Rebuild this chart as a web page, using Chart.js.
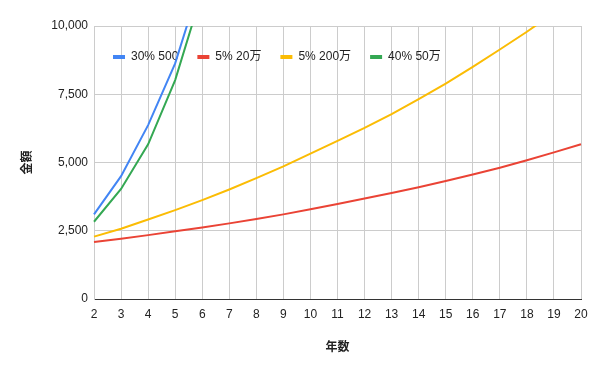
<!DOCTYPE html>
<html>
<head>
<meta charset="utf-8">
<script src="https://cdn.jsdelivr.net/npm/chart.js@4.4.1/dist/chart.umd.min.js"></script>
<style>
  html, body { margin: 0; padding: 0; background: #fff; }
  #wrap { width: 600px; height: 371px; }
</style>
</head>
<body>
<div id="wrap"><canvas id="chart" width="600" height="371"></canvas></div>
<script>
// Chart data
const years = [2, 3, 4, 5, 6, 7, 8, 9, 10, 11, 12, 13, 14, 15, 16, 17, 18, 19, 20];

const rate30_500 = [3100, 4500, 6370, 8630, 11800, 15500, 20300, 26600, 34800, 45400, 59200, 77100, 100400, 130700, 170100, 221300, 287900, 374400, 486900];
const rate5_20 = [2090, 2210, 2340, 2480, 2620, 2770, 2930, 3100, 3290, 3480, 3680, 3880, 4095, 4320, 4560, 4810, 5080, 5370, 5670];
const rate5_200 = [2285, 2575, 2910, 3255, 3620, 4010, 4425, 4860, 5325, 5790, 6265, 6770, 7320, 7890, 8500, 9140, 9790, 10480, 11200];
const rate40_50 = [2830, 4030, 5665, 8020, 11250, 15750, 22050, 30870, 43220, 60500, 84700, 118600, 166000, 232500, 325500, 455700, 638000, 893200, 1250500];

const seriesNames = ['30% 500', '5% 20万', '5% 200万', '40% 50万'];
const seriesColors = ['#4285F4', '#EA4335', '#FBBC04', '#34A853'];

const xTitle = '年数';
const yTitle = '金額';

const FONT = "Arial, 'Liberation Sans', 'Noto Sans CJK JP', sans-serif";

function makeDataset(i, values) {
    return {
        label: seriesNames[i],
        data: values,
        borderColor: seriesColors[i],
        backgroundColor: seriesColors[i],
        borderWidth: 2,
        pointRadius: 0,
        tension: 0
    };
}

// Move the legend down so it sits inside the plot, like the original
const legendInside = {
    id: 'legendInside',
    afterLayout: function(chart) {
        const lg = chart.legend;
        if (!lg) return;
        lg.top += 32;
        lg.height = 44;
        lg.bottom = lg.top + lg.height;
    }
};

const ctx = document.getElementById('chart').getContext('2d');
new Chart(ctx, {
    type: 'line',
    data: {
        labels: years,
        datasets: [
            makeDataset(0, rate30_500),
            makeDataset(1, rate5_20),
            makeDataset(2, rate5_200),
            makeDataset(3, rate40_50)
        ]
    },
    plugins: [legendInside],
    options: {
        responsive: false,
        animation: false,
        layout: {
            padding: { top: 0, right: 19, bottom: 12, left: 12 }
        },
        plugins: {
            tooltip: { enabled: false },
            legend: {
                position: 'top',
                align: 'start',
                fullSize: false,
                maxHeight: 26,
                labels: {
                    color: '#222',
                    font: { family: FONT, size: 12 },
                    boxWidth: 12,
                    boxHeight: 4,
                    padding: 19,
                    generateLabels: function(chart) {
                        const items = Chart.defaults.plugins.legend.labels.generateLabels(chart);
                        items.forEach(function(it) { it.lineWidth = 0; });
                        return items;
                    }
                }
            }
        },
        scales: {
            x: {
                grid: { color: '#cccccc', drawTicks: false },
                border: { color: '#333333' },
                ticks: {
                    color: '#222',
                    font: { family: FONT, size: 12 },
                    padding: 8,
                    autoSkip: false,
                    maxRotation: 0
                },
                title: {
                    display: true,
                    text: xTitle,
                    color: '#222',
                    font: { family: FONT, size: 12, weight: 'bold' },
                    padding: { top: 4, bottom: 4 }
                },
                afterFit: function(scale) { scale.height = 60; }
            },
            y: {
                min: 0,
                max: 10000,
                grid: { color: '#cccccc', drawTicks: false },
                border: { color: '#cccccc' },
                ticks: {
                    stepSize: 2500,
                    color: '#222',
                    font: { family: FONT, size: 12 },
                    padding: 6,
                    callback: function(v) { return v.toLocaleString('en-US'); }
                },
                title: {
                    display: true,
                    text: yTitle,
                    color: '#222',
                    font: { family: FONT, size: 12, weight: 'bold' },
                    padding: { top: 8, bottom: 4 }
                },
                afterFit: function(scale) { scale.width = 82; }
            }
        }
    }
});
</script>
</body>
</html>
